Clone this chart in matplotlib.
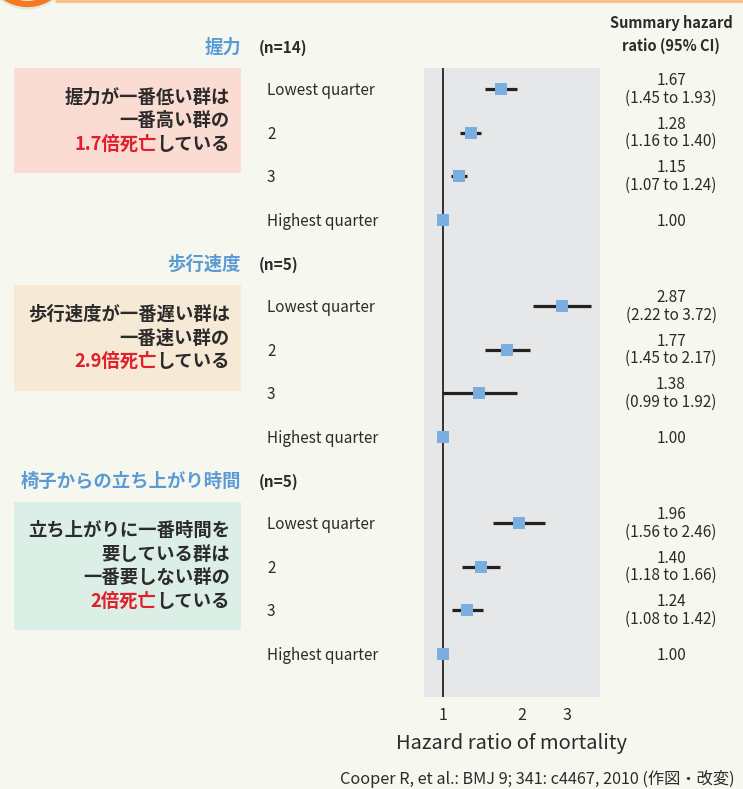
import matplotlib
matplotlib.use("Agg")
import matplotlib.pyplot as plt
from matplotlib.patches import Rectangle, Circle
import numpy as np

plt.rcParams['font.family'] = ['Noto Sans CJK JP', 'DejaVu Sans']

# ---- data ----
groups = ["握力", "歩行速度", "椅子からの立ち上がり時間"]
group_n = ["(n=14)", "(n=5)", "(n=5)"]
quarters = ["Lowest quarter", "2", "3", "Highest quarter"]
hr = [[1.67, 1.28, 1.15, 1.00],
      [2.87, 1.77, 1.38, 1.00],
      [1.96, 1.40, 1.24, 1.00]]
ci_low = [[1.45, 1.16, 1.07, None],
          [2.22, 1.45, 0.99, None],
          [1.56, 1.18, 1.08, None]]
ci_high = [[1.93, 1.40, 1.24, None],
           [3.72, 2.17, 1.92, None],
           [2.46, 1.66, 1.42, None]]
x_ticks = [1, 2, 3]

# callout text: (plain lines, [red part, plain part] for last line)
notes = [
    (["握力が一番低い群は", "一番高い群の"], ("1.7倍死亡", "している")),
    (["歩行速度が一番遅い群は", "一番速い群の"], ("2.9倍死亡", "している")),
    (["立ち上がりに一番時間を", "要している群は", "一番要しない群の"], ("2倍死亡", "している")),
]

# ---- style ----
BG = "#f6f8ef"
PANEL = "#e5e7e8"
BLUE_T = "#5b9bd5"
MARK = "#7aaee0"
DARK = "#2b2b2b"
RED = "#e0202a"
BOX_COLORS = ["#fbdcd3", "#f6ead6", "#dcefe7"]

W, H = 743, 789
fig = plt.figure(figsize=(W / 100, H / 100), dpi=100, facecolor=BG)

# pixel-space canvas for decorations and text
cv = fig.add_axes([0, 0, 1, 1])
cv.set_xlim(0, W)
cv.set_ylim(H, 0)
cv.axis("off")
cv.set_facecolor(BG)

# top ornament
cv.plot([55, W], [0.8, 0.8], color="#f8c28c", lw=2.2, solid_capstyle="butt", zorder=1)
cv.add_patch(Circle((27.5, -34), 40, facecolor="none", edgecolor="#d9dccf",
                    lw=5, alpha=0.6, zorder=1))
cv.add_patch(Circle((27.5, -36), 40, facecolor=BG, edgecolor="#f47920", lw=4.5, zorder=2))

# row layout
row0 = 46.0
row_step = 43.4
rows_per_group = 5
TXT_DY = 1.5  # baseline nudge for text rows

def row_y(g, i):
    # i = 0 is the group header row
    return row0 + (g * rows_per_group + i) * row_step

box_spans = [(68, 173), (285, 391), (502, 630)]
line_step = 23.5

fig.canvas.draw()
renderer = fig.canvas.get_renderer()

for g in range(3):
    hy = row_y(g, 0) + TXT_DY
    cv.text(241, hy, groups[g], ha="right", va="center", fontsize=13.2,
            fontweight="bold", color=BLUE_T)
    cv.text(259, hy, group_n[g], ha="left", va="center", fontsize=11,
            fontweight="bold", color=DARK)
    for i, q in enumerate(quarters):
        cv.text(267, row_y(g, i + 1) + TXT_DY, q, ha="left", va="center",
                fontsize=11, color=DARK)

    # callout box
    y0, y1 = box_spans[g]
    cv.add_patch(Rectangle((14, y0), 227, y1 - y0, facecolor=BOX_COLORS[g],
                           edgecolor="none", zorder=1))
    plain_lines, (red_part, tail) = notes[g]
    n_lines = len(plain_lines) + 1
    mid = (y0 + y1) / 2
    first = mid - (n_lines - 1) / 2 * line_step
    for k, s in enumerate(plain_lines):
        cv.text(230, first + k * line_step, s, ha="right", va="center",
                fontsize=13.2, fontweight="bold", color=DARK, zorder=3)
    ly = first + len(plain_lines) * line_step
    t = cv.text(230, ly, tail, ha="right", va="center", fontsize=13.2,
                fontweight="bold", color=DARK, zorder=3)
    bb = t.get_window_extent(renderer=renderer)
    x_left = cv.transData.inverted().transform((bb.x0, bb.y0))[0]
    cv.text(x_left, ly, red_part, ha="right", va="center", fontsize=13.2,
            fontweight="bold", color=RED, zorder=3)

    # summary column
    for i in range(4):
        yy = row_y(g, i + 1) + TXT_DY
        if ci_low[g][i] is None:
            cv.text(671, yy, f"{hr[g][i]:.2f}", ha="center", va="center",
                    fontsize=11, color=DARK)
        else:
            cv.text(671, yy - 10, f"{hr[g][i]:.2f}", ha="center", va="center",
                    fontsize=11, color=DARK)
            cv.text(671, yy + 7.5, f"({ci_low[g][i]:.2f} to {ci_high[g][i]:.2f})",
                    ha="center", va="center", fontsize=11, color=DARK)

cv.text(671, 23, "Summary hazard", ha="center", va="center", fontsize=10.5,
        fontweight="bold", color=DARK)
cv.text(671, 46, "ratio (95% CI)", ha="center", va="center", fontsize=10.5,
        fontweight="bold", color=DARK)

cv.text(512, 743, "Hazard ratio of mortality", ha="center", va="center",
        fontsize=14.5, color=DARK)
cv.text(735, 779, "Cooper R, et al.: BMJ 9; 341: c4467, 2010 (作図・改変)",
        ha="right", va="center", fontsize=11.7, color=DARK)

# ---- forest panel ----
px0, px1, py0, py1 = 424, 600, 68, 697
px_one, px_per_decade = 443, 260.0
ax = fig.add_axes([px0 / W, 1 - py1 / H, (px1 - px0) / W, (py1 - py0) / H])
ax.set_facecolor(PANEL)
ax.set_xscale("log")
x_left_val = 10 ** ((px0 - px_one) / px_per_decade)
x_right_val = 10 ** ((px1 - px_one) / px_per_decade)
ax.set_xlim(x_left_val, x_right_val)
ax.set_ylim((py1 - row0) / row_step, (py0 - row0) / row_step)
for s in ax.spines.values():
    s.set_visible(False)

ax.axvline(1, color="#333333", lw=1.4, zorder=2)

for g in range(3):
    for i in range(4):
        yi = g * rows_per_group + i + 1
        if ci_low[g][i] is not None:
            ax.plot([ci_low[g][i], ci_high[g][i]], [yi, yi], color="#222222",
                    lw=2.3, solid_capstyle="butt", zorder=3)
        ax.plot([hr[g][i]], [yi], marker="s", ms=8.4, color=MARK,
                markeredgewidth=0, zorder=4)

ax.set_xticks(x_ticks)
ax.set_xticklabels([str(v) for v in x_ticks], fontsize=11.5, color=DARK)
ax.xaxis.set_minor_locator(matplotlib.ticker.NullLocator())
ax.tick_params(axis="x", length=0, pad=7)
ax.set_yticks([])

fig.savefig("out.png", dpi=100, facecolor=BG)
